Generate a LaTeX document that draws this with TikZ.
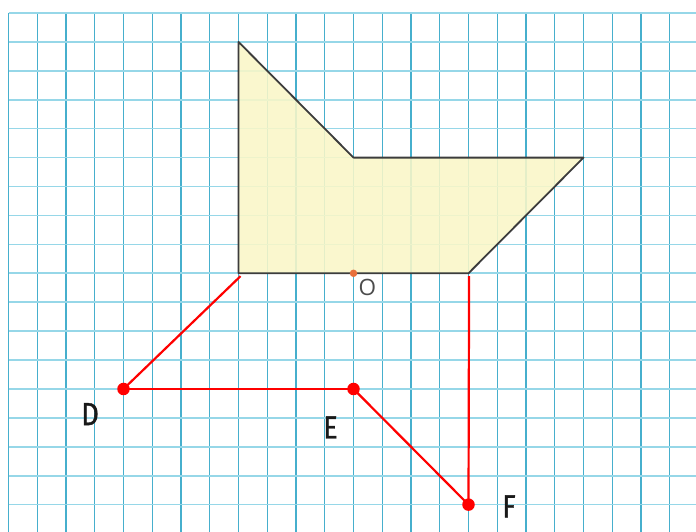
\documentclass[tikz,border=0pt]{standalone}
\usepackage{fontspec}
\usepackage{xcolor}
\usepackage{tikz}
\newfontfamily\letterfont[FakeStretch=0.84, FakeBold=1.2]{Fira Sans}
\newfontfamily\originfont{Open Sans}
\definecolor{gridv}{RGB}{70,175,205}
\definecolor{gridh}{RGB}{150,215,232}
\definecolor{shapefill}{RGB}{250,247,200}
\definecolor{shapeline}{RGB}{60,60,60}
\definecolor{dotorange}{RGB}{232,112,60}

\begin{document}
\begin{tikzpicture}[
    x=28.75pt, y=-28.92pt,
    vline/.style={draw=gridv, line width=1.4pt},
    hline/.style={draw=gridh, line width=1.6pt},
    figure/.style={fill=shapefill, draw=shapeline, line width=1.8pt, line join=round},
    redline/.style={draw=red, line width=2.2pt},
    reddot/.style={circle, fill=red, inner sep=0pt, minimum size=12.5pt},
    letter/.style={font=\letterfont\fontsize{32}{32}\selectfont, text=black!90, inner sep=0pt}
  ]
    \useasboundingbox (-0.2957,-0.4495) rectangle (23.913,17.946);
    \fill[white] (-0.2957,-0.4495) rectangle (23.913,17.946);
    \foreach \i in {0,...,23}
        \draw[vline] (\i,0) -- (\i,17.946);
    \foreach \j in {0,...,17}
        \draw[hline] (0,\j) -- (23.913,\j);
    \fill[shapefill, opacity=0.88] (8,1) -- (12,5) -- (20,5) -- (16,9) -- (8,9) -- cycle;
    \draw[figure, fill=none] (8,1) -- (12,5) -- (20,5) -- (16,9) -- (8,9) -- cycle;
    \node[circle, fill=dotorange, inner sep=0pt, minimum size=7.5pt] (o) at (12,9) {};
    \node[font=\originfont\fontsize{22.5}{22.5}\selectfont, text=black!70, inner sep=0pt] (olabel) at (12.48,9.48) {O};
    \coordinate (h) at (8.07,9.1);
    \coordinate (g) at (16.02,9.1);
    \node[reddot] (d) at (4,13) {};
    \node[reddot] (e) at (12,13) {};
    \node[reddot] (f) at (16,17) {};
    \draw[redline] (h) -- (d.center);
    \draw[redline] (d.center) -- (e.center);
    \draw[redline] (e.center) -- (f.center);
    \draw[redline] (g) -- (f.center);
    \node[letter] (dlabel) at (2.84,13.87) {D};
    \node[letter] (elabel) at (11.2,14.33) {E};
    \node[letter] (flabel) at (17.41,17.06) {F};
\end{tikzpicture}
\end{document}
